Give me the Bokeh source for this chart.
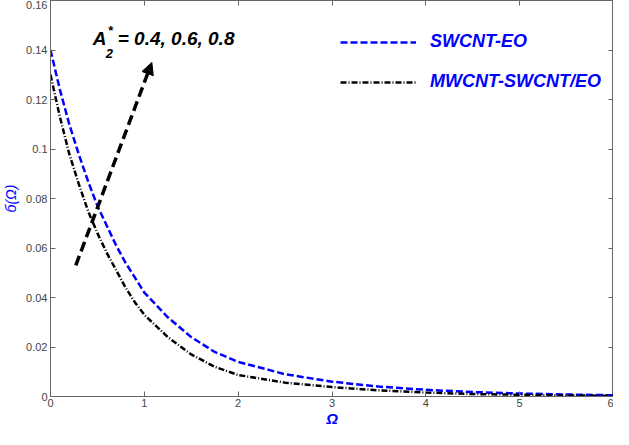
from bokeh.plotting import figure
from bokeh.models import (Range1d, LinearAxis, FixedTicker, Legend, LegendItem,
                          Label, Arrow, NormalHead)
from bokeh.embed import file_html
from bokeh.resources import INLINE

# ---- data ----
omega = [0, 0.1, 0.2, 0.3, 0.4, 0.5, 0.6, 0.7, 0.8, 0.9, 1.0, 1.25, 1.5, 1.75,
         2.0, 2.5, 3.0, 3.5, 4.0, 4.5, 5.0, 5.5, 6.0]
swcnt_eo = [0.140, 0.124, 0.110, 0.098, 0.087, 0.077, 0.069, 0.061, 0.054, 0.048,
            0.042, 0.032, 0.024, 0.018, 0.014, 0.0090, 0.0060, 0.0040, 0.0027,
            0.0018, 0.0012, 0.0008, 0.0005]
mwcnt_swcnt_eo = [0.130, 0.113, 0.098, 0.086, 0.075, 0.066, 0.058, 0.051, 0.044,
                  0.038, 0.033, 0.024, 0.017, 0.012, 0.0087, 0.0056, 0.0038,
                  0.0025, 0.0016, 0.0010, 0.0007, 0.0004, 0.0003]
x_ticks = [0, 1, 2, 3, 4, 5, 6]
y_ticks = [0, 0.02, 0.04, 0.06, 0.08, 0.10, 0.12, 0.14, 0.16]
y_tick_labels = ["0", "0.02", "0.04", "0.06", "0.08", "0.1", "0.12", "0.14", "0.16"]
series_names = ["SWCNT-EO", "MWCNT-SWCNT/EO"]
param_text = "= 0.4, 0.6, 0.8"
arrow_start = (0.27, 0.053)
arrow_end = (1.08, 0.135)
anno_pos = (0.45, 0.1405)

FONT = "Liberation Sans"
BLUE = "#0000ff"
TICK_COLOR = "#444444"
FRAME = "#666666"

p = figure(width=613, height=429, output_backend="svg", toolbar_location=None,
           x_range=Range1d(0, 6), y_range=Range1d(0, 0.16),
           min_border_left=40, min_border_right=0, min_border_top=0,
           min_border_bottom=0)
p.xgrid.visible = False
p.ygrid.visible = False
p.outline_line_color = FRAME
p.background_fill_color = "white"
p.border_fill_color = "white"

def style_axis(ax, labels=True):
    ax.axis_line_color = FRAME
    ax.major_tick_line_color = FRAME
    ax.major_tick_in = 5
    ax.major_tick_out = 0
    ax.minor_tick_line_color = None
    ax.major_label_text_font = FONT
    ax.major_label_text_font_size = "11px"
    ax.major_label_text_color = TICK_COLOR
    ax.major_label_standoff = 2
    if not labels:
        ax.major_label_text_font_size = "1px"
        ax.major_label_text_color = None
        ax.major_label_standoff = 0

p.xaxis.ticker = FixedTicker(ticks=x_ticks)
p.yaxis.ticker = FixedTicker(ticks=y_ticks)
p.yaxis.major_label_overrides = {t: l for t, l in zip(y_ticks, y_tick_labels)}
style_axis(p.xaxis[0])
style_axis(p.yaxis[0])
p.yaxis.major_label_standoff = 3

p.xaxis.axis_label = "Ω"
p.xaxis.axis_label_text_font = FONT
p.xaxis.axis_label_text_font_style = "bold italic"
p.xaxis.axis_label_text_font_size = "15px"
p.xaxis.axis_label_text_color = BLUE
p.xaxis.axis_label_standoff = 0

p.yaxis.axis_label = "б(Ω)"
p.yaxis.axis_label_text_font = FONT
p.yaxis.axis_label_text_font_style = "italic"
p.yaxis.axis_label_text_font_size = "14px"
p.yaxis.axis_label_text_color = BLUE
p.yaxis.axis_label_standoff = 4

top_ax = LinearAxis(ticker=FixedTicker(ticks=x_ticks))
style_axis(top_ax, labels=False)
p.add_layout(top_ax, "above")
right_ax = LinearAxis(ticker=FixedTicker(ticks=y_ticks))
style_axis(right_ax, labels=False)
p.add_layout(right_ax, "right")

r1 = p.line(omega, swcnt_eo, line_color=BLUE, line_width=2.5, line_dash="7 3")
r2 = p.line(omega, mwcnt_swcnt_eo, line_color="black", line_width=2.5,
            line_dash="6 2 1 2")

legend = Legend(items=[LegendItem(label=series_names[0], renderers=[r1]),
                       LegendItem(label=series_names[1], renderers=[r2])],
                location=(290, 304), glyph_width=76, glyph_height=20,
                label_standoff=14, spacing=19, border_line_color=None,
                background_fill_alpha=0, label_text_font=FONT,
                label_text_font_style="bold italic", label_text_font_size="18px",
                label_text_color=BLUE)
p.add_layout(legend)

p.add_layout(Arrow(end=NormalHead(size=12, fill_color="black", line_color="black"),
                   x_start=arrow_start[0], y_start=arrow_start[1],
                   x_end=arrow_end[0], y_end=arrow_end[1],
                   line_width=3.5, line_dash="10 5", line_color="black"))

common = dict(text_font=FONT, text_font_style="bold italic", text_color="black")
p.add_layout(Label(x=anno_pos[0], y=anno_pos[1], text="A", text_font_size="19px", **common))
p.add_layout(Label(x=anno_pos[0], y=anno_pos[1], x_offset=13, y_offset=-9, text="2",
                   text_font_size="13px", **common))
p.add_layout(Label(x=anno_pos[0], y=anno_pos[1], x_offset=15, y_offset=11, text="*",
                   text_font_size="13px", **common))
p.add_layout(Label(x=anno_pos[0], y=anno_pos[1], x_offset=25, text=param_text,
                   text_font_size="19px", **common))

open("out.html", "w").write(file_html(p, INLINE))
